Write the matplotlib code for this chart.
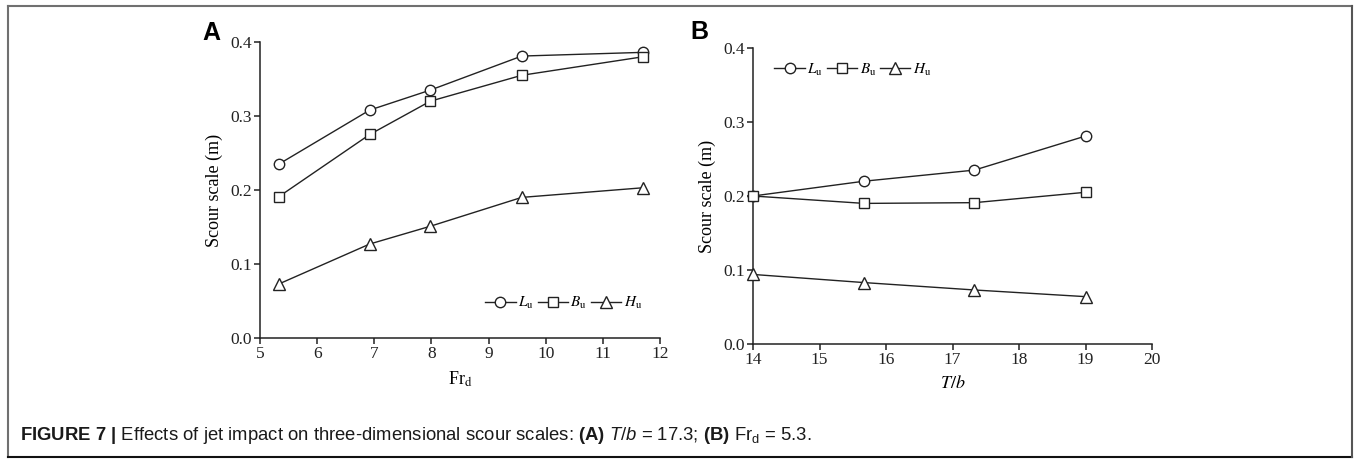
import numpy as np
import matplotlib
matplotlib.use('Agg')
from matplotlib import pyplot as plt
from matplotlib.lines import Line2D

# panel A: varying densimetric Froude number (T/b = 17.3)
fr_d = [5.33, 6.92, 7.98, 9.58, 11.7]
lu_a = [0.235, 0.308, 0.335, 0.381, 0.386]
bu_a = [0.191, 0.275, 0.320, 0.355, 0.380]
hu_a = [0.073, 0.127, 0.151, 0.190, 0.203]

# panel B: varying tailwater depth ratio (Fr_d = 5.3)
t_b = [14.0, 15.67, 17.33, 19.0]
lu_b = [0.200, 0.220, 0.235, 0.281]
bu_b = [0.200, 0.190, 0.191, 0.205]
hu_b = [0.094, 0.083, 0.073, 0.064]

series_labels = [r'$\mathit{L}_\mathrm{u}$', r'$\mathit{B}_\mathrm{u}$', r'$\mathit{H}_\mathrm{u}$']
series_markers = ['o', 's', '^']
y_ticks = [0.0, 0.1, 0.2, 0.3, 0.4]

plt.rcParams['font.family'] = ['Liberation Serif', 'DejaVu Serif']
plt.rcParams['mathtext.fontset'] = 'stix'
plt.rcParams['mathtext.rm'] = 'Liberation Sans'
plt.rcParams['mathtext.it'] = 'Liberation Sans:italic'
plt.rcParams['mathtext.bf'] = 'Liberation Sans:bold'

W, H = 1356, 459
fig = plt.figure(figsize=(W / 100, H / 100), dpi=100)


def px_axes(x0, y0, x1, y1):
    return fig.add_axes([x0 / W, 1 - y1 / H, (x1 - x0) / W, (y1 - y0) / H])


def draw_panel(ax, x, ys, xlim, xticks, xlabel, legend_loc, anchor):
    for y, m, lab in zip(ys, series_markers, series_labels):
        ms = 8.5 if m == '^' else 7.5 if m == 'o' else 7
        ax.plot(x, y, color='#222222', lw=1.0, marker=m, ms=ms, mfc='white',
                mec='#222222', mew=1.0, label=lab, clip_on=False, zorder=3)
    ax.set_xlim(*xlim)
    ax.set_ylim(0, 0.4)
    ax.set_xticks(xticks)
    ax.set_yticks(y_ticks)
    ax.set_yticklabels([f'{v:.1f}' for v in y_ticks])
    for s in ['top', 'right']:
        ax.spines[s].set_visible(False)
    for s in ['left', 'bottom']:
        ax.spines[s].set_linewidth(1.1)
        ax.spines[s].set_color('#222222')
    ax.tick_params(direction='out', length=4, width=1.1, labelsize=12.5, pad=2,
                   colors='#222222')
    ax.set_ylabel('Scour scale (m)', fontsize=13, labelpad=5)
    ax.set_xlabel(xlabel, fontsize=13, labelpad=5)
    ax.legend(ncol=3, frameon=False, fontsize=11, handlelength=2.0,
              handletextpad=0.15, columnspacing=0.25, borderaxespad=0.0,
              loc=legend_loc, bbox_to_anchor=anchor)


ax_a = px_axes(260, 42, 660, 338)
draw_panel(ax_a, fr_d, [lu_a, bu_a, hu_a], (5, 12), range(5, 13),
           r'Fr$_\mathrm{d}$', 'lower right', (0.97, 0.07))

ax_b = px_axes(753, 48, 1152, 344)
draw_panel(ax_b, t_b, [lu_b, bu_b, hu_b], (14, 20), range(14, 21),
           r'$\mathit{T/b}$', 'upper left', (0.038, 0.975))

# panel letters
fig.text(202 / W, 1 - 33 / H, 'A', fontsize=18, fontweight='bold',
         family='Liberation Sans', va='center', ha='left')
fig.text(690 / W, 1 - 32 / H, 'B', fontsize=18, fontweight='bold',
         family='Liberation Sans', va='center', ha='left')

# caption
caption = (r'$\mathbf{FIGURE\ 7\ |}$ Effects of jet impact on three-dimensional scour scales: '
           r'$\mathbf{(A)}$ $\mathit{T/b}$ = 17.3; $\mathbf{(B)}$ Fr$_\mathrm{d}$ = 5.3.')
fig.text(20 / W, 1 - 436 / H, caption, fontsize=13.3, family='Liberation Sans',
         math_fontfamily='custom', va='center', ha='left', color='#1a1a1a')

# figure frame
fig.add_artist(Line2D([8 / W, 1352 / W], [1 - 6 / H, 1 - 6 / H], color='#707070', lw=1.5))
fig.add_artist(Line2D([8 / W, 8 / W], [1 - 6 / H, 1 - 457 / H], color='#707070', lw=1.5))
fig.add_artist(Line2D([8 / W, 1352 / W], [1 - 457 / H, 1 - 457 / H], color='#111111', lw=1.5))
fig.add_artist(Line2D([1352 / W, 1352 / W], [1 - 6 / H, 1 - 457 / H], color='#555555', lw=1.5))

fig.savefig('out.png', dpi=100)
